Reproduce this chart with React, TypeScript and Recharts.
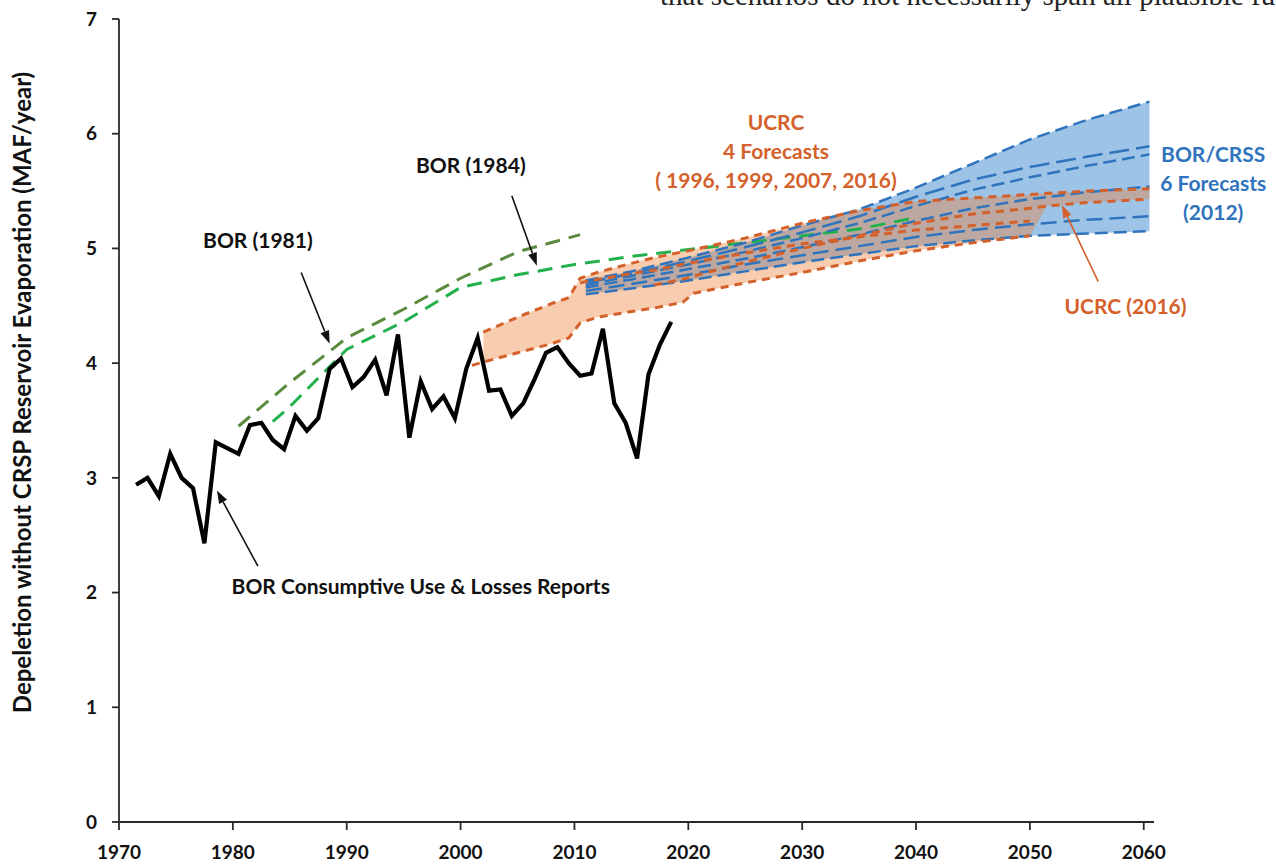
import {
  Area,
  ComposedChart,
  Line,
  ReferenceDot,
  ReferenceLine,
  XAxis,
  YAxis,
} from "recharts";

const FONT = "Lato, 'Open Sans', sans-serif";
const ORANGE = "#d4612b";
const BLUE = "#2f74bd";
const DARK_GREEN = "#5a8a3c";
const GREEN = "#22b14c";

// BOR consumptive use & losses reports, one value per year from 1971 (MAF/yr)
const useStart = 1971;
const useValues = [
  2.94, 3.0, 2.84, 3.21, 3.0, 2.91, 2.43, 3.31, 3.26, 3.21,
  3.46, 3.48, 3.33, 3.25, 3.54, 3.41, 3.52, 3.95, 4.04, 3.79,
  3.88, 4.03, 3.72, 4.25, 3.35, 3.84, 3.6, 3.71, 3.52, 3.95,
  4.22, 3.76, 3.77, 3.54, 3.65, 3.86, 4.09, 4.14, 4.0, 3.89,
  3.91, 4.3, 3.65, 3.48, 3.17, 3.9, 4.16, 4.36,
];

// older BOR projections
const bor1981Years = [1980.5, 1985, 1990, 1995, 2000, 2005, 2010.5];
const bor1981 = [3.45, 3.83, 4.22, 4.47, 4.74, 4.97, 5.12];
const bor1984Years = [1983.5, 1985, 1990, 1995, 2000, 2005, 2010, 2015, 2020, 2025, 2030, 2035, 2039.5];
const bor1984 = [3.49, 3.62, 4.12, 4.36, 4.66, 4.77, 4.86, 4.93, 4.99, 5.05, 5.11, 5.17, 5.26];

// UCRC forecasts on a shared year grid (null = not covered by that forecast)
const ucrcYears = [2001, 2002, 2005, 2008, 2009.5, 2010.5, 2012, 2015, 2017, 2019.5, 2020.5, 2025, 2030, 2035, 2040, 2045, 2050, 2051.5, 2055, 2060.5];
const ucrc1996 = [3.98, 4.01, 4.09, 4.17, 4.22, 4.35, 4.4, 4.45, 4.48, 4.53, 4.61, 4.7, 4.79, 4.89, 4.98, 5.05, 5.11, null, null, null];
const ucrc1999 = [null, 4.27, 4.4, 4.52, 4.57, 4.74, 4.79, 4.87, 4.92, 4.97, 4.99, 5.09, 5.22, 5.33, 5.41, 5.44, 5.47, 5.48, 5.5, 5.52];
const ucrc2007 = [null, null, null, null, null, 4.7, 4.73, 4.78, 4.81, 4.86, 4.88, 4.96, 5.04, 5.1, 5.16, 5.2, 5.24, null, null, null];
const ucrc2016 = [null, null, null, null, null, null, null, null, 4.68, 4.73, 4.76, 4.88, 5.0, 5.11, 5.22, 5.3, 5.35, 5.37, 5.4, 5.43];

// BOR/CRSS 2012 forecasts
const crssYears = [2011, 2015, 2020, 2025, 2030, 2035, 2040, 2045, 2050, 2055, 2060.5];
const crss1 = [4.72, 4.8, 4.92, 5.05, 5.2, 5.34, 5.53, 5.74, 5.95, 6.12, 6.28];
const crss2 = [4.7, 4.78, 4.89, 5.01, 5.14, 5.28, 5.45, 5.6, 5.71, 5.8, 5.89];
const crss3 = [4.68, 4.76, 4.86, 4.97, 5.09, 5.22, 5.37, 5.51, 5.62, 5.72, 5.82];
const crss4 = [4.66, 4.73, 4.82, 4.91, 5.01, 5.12, 5.24, 5.35, 5.43, 5.49, 5.54];
const crss5 = [4.63, 4.69, 4.77, 4.86, 4.94, 5.02, 5.1, 5.16, 5.21, 5.25, 5.28];
const crss6 = [4.6, 4.65, 4.72, 4.8, 4.88, 4.95, 5.02, 5.07, 5.11, 5.13, 5.15];

const xTicks = [1970, 1980, 1990, 2000, 2010, 2020, 2030, 2040, 2050, 2060];
const yTicks = [0, 1, 2, 3, 4, 5, 6, 7];

const ucrcSeries = [
  { key: "u1996", values: ucrc1996 },
  { key: "u1999", values: ucrc1999 },
  { key: "u2007", values: ucrc2007 },
  { key: "u2016", values: ucrc2016 },
];
const crssSeries = [
  { key: "c1", values: crss1, dash: "13 6" },
  { key: "c2", values: crss2, dash: "20 7" },
  { key: "c3", values: crss3, dash: "13 6" },
  { key: "c4", values: crss4, dash: "13 6" },
  { key: "c5", values: crss5, dash: "16 7" },
  { key: "c6", values: crss6, dash: "13 6" },
];

type Row = { x: number; [key: string]: number | number[] | null };

// merge every series into one table keyed by x position
function buildRows(): Row[] {
  const rows = new Map<number, Row>();
  const put = (x: number, key: string, v: number | number[] | null) => {
    if (v == null) return;
    const row = rows.get(x) ?? { x };
    row[key] = v;
    rows.set(x, row);
  };
  // annual totals sit at mid-year
  useValues.forEach((v, i) => put(useStart + i + 0.5, "use", v));
  bor1981Years.forEach((x, i) => put(x, "bor1981", bor1981[i]));
  bor1984Years.forEach((x, i) => put(x, "bor1984", bor1984[i]));
  ucrcYears.forEach((x, i) => {
    const vals: number[] = [];
    ucrcSeries.forEach((s) => {
      const v = s.values[i];
      put(x, s.key, v);
      if (v != null) vals.push(v);
    });
    if (vals.length >= 2) put(x, "ucrcBand", [Math.min(...vals), Math.max(...vals)]);
  });
  crssYears.forEach((x, i) => {
    crssSeries.forEach((s) => put(x, s.key, s.values[i]));
    put(x, "crssBand", [crss6[i], crss1[i]]);
  });
  return [...rows.values()].sort((a, b) => a.x - b.x);
}

const rows = buildRows();

const notes = [
  { x: 1982.2, y: 5.07, color: "#111", lines: ["BOR (1981)"] },
  { x: 2000.9, y: 5.72, color: "#111", lines: ["BOR (1984)"] },
  { x: 1996.5, y: 2.05, color: "#111", lines: ["BOR Consumptive Use & Losses Reports"] },
  { x: 2027.7, y: 6.1, color: ORANGE, lines: ["UCRC", "4 Forecasts", "( 1996, 1999, 2007, 2016)"] },
  { x: 2066.1, y: 5.82, color: BLUE, lines: ["BOR/CRSS", "6 Forecasts", "(2012)"] },
  { x: 2058.4, y: 4.49, color: ORANGE, lines: ["UCRC (2016)"] },
];

const arrows = [
  { from: [1986.0, 4.79], to: [1988.5, 4.17], color: "#111" },
  { from: [2004.5, 5.46], to: [2006.7, 4.85], color: "#111" },
  { from: [1982.2, 2.23], to: [1978.6, 2.89], color: "#111" },
  { from: [2056.0, 4.71], to: [2052.8, 5.38], color: ORANGE },
];

function noteShape(lines: string[], color: string) {
  return (p: any) => (
    <text
      x={p.cx}
      y={p.cy}
      textAnchor="middle"
      fill={color}
      fontFamily={FONT}
      fontWeight={700}
      fontSize={21}
    >
      {lines.map((t, i) => (
        <tspan key={t} x={p.cx} dy={i === 0 ? "0.35em" : 29}>
          {t}
        </tspan>
      ))}
    </text>
  );
}

function arrowShape(color: string) {
  return (p: any) => {
    const { x1, y1, x2, y2 } = p;
    const a = Math.atan2(y2 - y1, x2 - x1);
    const len = 13;
    const half = 4.5;
    const bx = x2 - len * Math.cos(a);
    const by = y2 - len * Math.sin(a);
    const nx = -Math.sin(a) * half;
    const ny = Math.cos(a) * half;
    return (
      <g>
        <line x1={x1} y1={y1} x2={bx} y2={by} stroke={color} strokeWidth={1.6} />
        <polygon points={`${x2},${y2} ${bx + nx},${by + ny} ${bx - nx},${by - ny}`} fill={color} />
      </g>
    );
  };
}

function AxisTitle({ viewBox }: any) {
  const cx = viewBox.x + 23;
  const cy = viewBox.y + viewBox.height / 2 - 28;
  return (
    <text
      x={cx}
      y={cy}
      transform={`rotate(-90 ${cx} ${cy})`}
      textAnchor="middle"
      dy="0.35em"
      fill="#111"
      fontFamily={FONT}
      fontWeight={700}
      fontSize={24}
    >
      Depeletion without CRSP Reservoir Evaporation (MAF/year)
    </text>
  );
}

const tickStyle = { fill: "#111", fontSize: 19, fontWeight: 700, fontFamily: FONT };

export default function App() {
  return (
    <div style={{ position: "absolute", left: 0, top: 0, width: 1276, height: 865, background: "#fff", overflow: "hidden" }}>
      {/* running text of the page above the figure */}
      <div
        style={{
          position: "absolute",
          left: 660,
          top: -21,
          whiteSpace: "nowrap",
          fontFamily: "'Liberation Serif', serif",
          fontSize: 29,
          color: "#222",
        }}
      >
        that scenarios do not necessarily span all plausible fu
      </div>
      <ComposedChart
        width={1276}
        height={865}
        data={rows}
        margin={{ top: 19, right: 122, bottom: 0, left: 0 }}
      >
        <XAxis
          dataKey="x"
          type="number"
          domain={[1970, 2060.9]}
          ticks={xTicks}
          allowDataOverflow
          height={43}
          tickSize={8}
          tickMargin={16}
          stroke="#2a2a2a"
          strokeWidth={1.8}
          tick={tickStyle}
        />
        <YAxis
          type="number"
          domain={[0, 7]}
          ticks={yTicks}
          width={119}
          tickSize={7}
          tickMargin={15}
          stroke="#2a2a2a"
          strokeWidth={1.8}
          tick={tickStyle}
          label={<AxisTitle />}
        />

        <Area
          dataKey="crssBand"
          stroke="none"
          fill="#5b9bd5"
          fillOpacity={0.6}
          connectNulls
          isAnimationActive={false}
          activeDot={false}
        />
        <Area
          dataKey="ucrcBand"
          stroke="none"
          fill="#ed7d31"
          fillOpacity={0.39}
          connectNulls
          isAnimationActive={false}
          activeDot={false}
        />

        <Line dataKey="bor1981" stroke={DARK_GREEN} strokeWidth={3} strokeDasharray="15 9" dot={false} activeDot={false} connectNulls isAnimationActive={false} />
        <Line dataKey="bor1984" stroke={GREEN} strokeWidth={3} strokeDasharray="15 9" dot={false} activeDot={false} connectNulls isAnimationActive={false} />

        {crssSeries.map((s) => (
          <Line
            key={s.key}
            dataKey={s.key}
            stroke={BLUE}
            strokeWidth={2.5}
            strokeDasharray={s.dash}
            dot={false}
            activeDot={false}
            connectNulls
            isAnimationActive={false}
          />
        ))}
        {ucrcSeries.map((s) => (
          <Line
            key={s.key}
            dataKey={s.key}
            stroke={ORANGE}
            strokeWidth={3}
            strokeDasharray="8 6"
            dot={false}
            activeDot={false}
            connectNulls
            isAnimationActive={false}
          />
        ))}

        <Line dataKey="use" stroke="#000" strokeWidth={4.2} strokeLinejoin="miter" dot={false} activeDot={false} connectNulls isAnimationActive={false} />

        {arrows.map((a, i) => (
          <ReferenceLine
            key={`arrow-${i}`}
            segment={[
              { x: a.from[0], y: a.from[1] },
              { x: a.to[0], y: a.to[1] },
            ]}
            ifOverflow="visible"
            shape={arrowShape(a.color)}
          />
        ))}
        {notes.map((n) => (
          <ReferenceDot
            key={n.lines[0]}
            x={n.x}
            y={n.y}
            r={1}
            ifOverflow="visible"
            shape={noteShape(n.lines, n.color)}
          />
        ))}
      </ComposedChart>
    </div>
  );
}
